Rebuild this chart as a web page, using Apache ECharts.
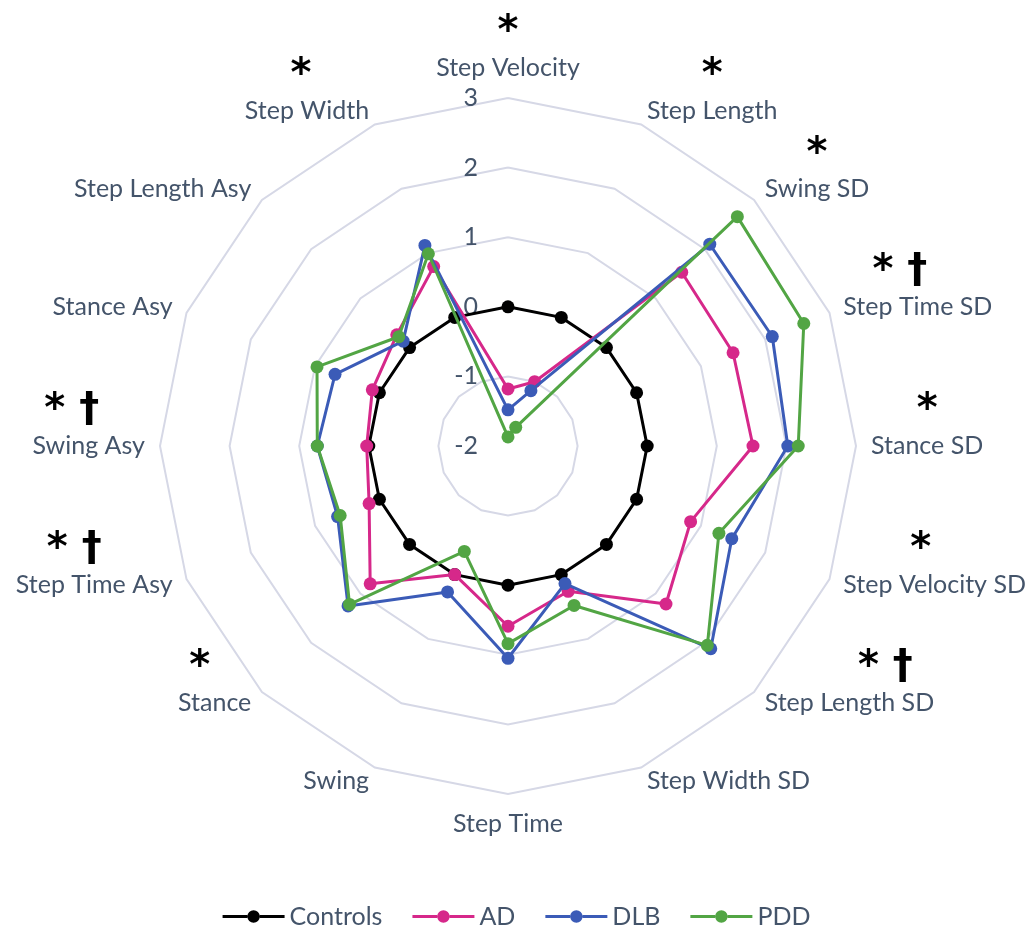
<!DOCTYPE html>
<html>
<head>
<meta charset="utf-8">
<title>Gait radar</title>
<script src="https://cdn.jsdelivr.net/npm/echarts@6/dist/echarts.min.js"></script>
<style>
  html, body { margin: 0; padding: 0; background: #fff; }
  #chart { width: 1033px; height: 929px; }
</style>
</head>
<body>
<div id="chart"></div>
<script>
// axes, clockwise from the top
var axisNames = ['Step Velocity', 'Step Length', 'Swing SD', 'Step Time SD', 'Stance SD',
  'Step Velocity SD', 'Step Length SD', 'Step Width SD', 'Step Time', 'Swing', 'Stance',
  'Step Time Asy', 'Swing Asy', 'Stance Asy', 'Step Length Asy', 'Step Width'];
// significance marks over the axis names
var axisMarks = ['*', '*', '*', '* †', '*', '*', '* †', '', '', '', '*',
  '* †', '* †', '', '', '*'];

var groupNames = ['Controls', 'AD', 'DLB', 'PDD'];
var controls = [0, 0, 0, 0, 0, 0, 0, 0, 0, 0, 0, 0, 0, 0, 0, 0];
var ad  = [-1.18, -1.00, 1.53, 1.50, 1.52, 0.84, 1.21, 0.26, 0.59, 0.00, 0.80, 0.16, 0.03, 0.11, 0.26, 0.79];
var dlb = [-1.48, -1.14, 2.10, 2.11, 2.02, 1.48, 2.12, 0.14, 1.05, 0.27, 1.25, 0.65, 0.74, 0.69, 0.13, 1.12];
var pdd = [-1.87, -1.71, 2.66, 2.60, 2.17, 1.28, 2.05, 0.48, 0.84, -0.36, 1.22, 0.61, 0.74, 0.97, 0.22, 0.99];

var axisMin = -2;
var axisMax = 3;

var colors = ['#000000', '#d6288a', '#3b5bb7', '#52a544'];
var textColor = '#44546A';

// sideways nudge (px) of the marks relative to the centre of their name
var markNudge = { 'Step Time SD': -18, 'Step Length SD': 36, 'Swing Asy': -17,
  'Step Time Asy': -20, 'Stance': -15, 'Step Width': -6, 'Step Velocity SD': -14 };

// echarts lays radar axes out counter-clockwise, so flip everything after the first
function ccw(arr) {
  return [arr[0]].concat(arr.slice(1).reverse());
}

var markIndex = {};
var rich = {
  n: { fontFamily: 'Lato', fontSize: 25, color: textColor, lineHeight: 30 },
  b: { fontSize: 40, lineHeight: 40 }
};
axisNames.forEach(function (n, i) {
  markIndex[n] = i;
  var s = markNudge[n] || 0;
  rich['m' + i] = {
    fontFamily: 'DejaVu Sans', fontSize: 40, fontWeight: 'bold', color: '#000',
    lineHeight: 40, align: 'center',
    padding: s > 0 ? [0, 0, 0, 2 * s] : [0, -2 * s, 0, 0]
  };
});

var indicators = ccw(axisNames).map(function (n, i) {
  var ind = { name: n, min: axisMin, max: axisMax };
  if (i === 0) ind.axisLabel = { show: true };
  return ind;
});

var groups = [controls, ad, dlb, pdd];
var series = groups.map(function (vals, k) {
  return {
    name: groupNames[k],
    type: 'radar',
    symbol: 'circle',
    symbolSize: 13,
    lineStyle: { width: 3, color: colors[k] },
    itemStyle: { color: colors[k] },
    z: 2 + k,
    data: [{ name: groupNames[k], value: ccw(vals) }]
  };
});

// legend key: a line with a dot in the middle
var legendIcon = 'path://M0,4.5L24,4.5L24,7.5L0,7.5Z M36,4.5L60,4.5L60,7.5L36,7.5Z ' +
  'M24,6A6,6 0 1,1 36,6A6,6 0 1,1 24,6Z';

var chart = echarts.init(document.getElementById('chart'));
chart.setOption({
  animation: false,
  color: colors,
  legend: {
    data: groupNames,
    top: 899,
    icon: legendIcon,
    itemWidth: 62,
    itemHeight: 13,
    itemGap: 30,
    textStyle: { fontFamily: 'Lato', fontSize: 25, color: textColor }
  },
  radar: {
    center: [508, 446],
    radius: 348,
    startAngle: 90,
    shape: 'polygon',
    splitNumber: 5,
    indicator: indicators,
    nameGap: 15,
    axisName: {
      color: textColor,
      formatter: function (name) {
        var i = markIndex[name];
        var m = axisMarks[i];
        if (!m) return '{n|' + name + '}';
        if (i === 0) return '{m' + i + '|' + m + '}\n{n|' + name + '}';
        return '{m' + i + '|' + m + '}\n{n|' + name + '}\n{b| }';
      },
      rich: rich
    },
    axisLine: { show: false },
    axisTick: { show: false },
    axisLabel: { show: false, fontFamily: 'Lato', fontSize: 25, color: textColor, margin: 30 },
    splitLine: { lineStyle: { color: '#d6d8e6', width: 2 } },
    splitArea: { show: false }
  },
  series: series
});
</script>
</body>
</html>
